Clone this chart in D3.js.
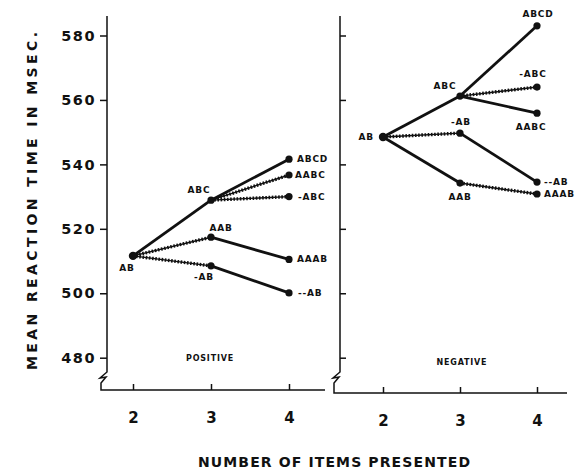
<!DOCTYPE html>
<html><head><meta charset="utf-8">
<script src="https://cdn.jsdelivr.net/npm/d3@7"></script>
<style>
body{margin:0;background:#fff;}
svg{display:block;font-family:"DejaVu Sans","Liberation Sans",sans-serif;font-weight:bold;}
</style></head>
<body><svg id="c" width="581" height="470"></svg>
<script>
// ---- data ----
const xTicks = [2, 3, 4];
const yTicks = [480, 500, 520, 540, 560, 580];
const yTickLabels = ["480", "500", "520", "540", "560", "580"];

const posNames  = ["AB", "ABC", "AAB", "-AB", "ABCD", "AABC", "-ABC", "AAAB", "--AB"];
const posItems  = [2, 3, 3, 3, 4, 4, 4, 4, 4];
const posValues = [511.6, 528.9, 517.4, 508.5, 541.6, 536.7, 530.0, 510.5, 500.1];
const posFrom   = ["AB", "AB", "AB", "ABC", "ABC", "ABC", "AAB", "-AB"];
const posTo     = ["ABC", "AAB", "-AB", "ABCD", "AABC", "-ABC", "AAAB", "--AB"];
const posDotted = [false, true, true, false, true, true, false, false];

const negNames  = ["AB", "ABC", "-AB", "AAB", "ABCD", "-ABC", "AABC", "--AB", "AAAB"];
const negItems  = [2, 3, 3, 3, 4, 4, 4, 4, 4];
const negValues = [548.5, 561.2, 549.7, 534.2, 583.0, 564.0, 555.9, 534.5, 530.8];
const negFrom   = ["AB", "AB", "AB", "ABC", "ABC", "ABC", "-AB", "AAB"];
const negTo     = ["ABC", "-AB", "AAB", "ABCD", "-ABC", "AABC", "--AB", "AAAB"];
const negDotted = [false, true, false, false, true, false, false, true];

const panelTitles = ["POSITIVE", "NEGATIVE"];
const xTitle = "NUMBER OF ITEMS PRESENTED";
const yTitle = "MEAN REACTION TIME IN MSEC.";

// ---- layout (label offsets: [dx, dy, anchor]) ----
const posLabelPos = {
  "AB": [-6, 12, "middle"], "ABC": [-12, -10, "middle"], "AAB": [10, -9, "middle"],
  "-AB": [-7, 11, "middle"], "ABCD": [8, 0, "start"], "AABC": [6, 0, "start"],
  "-ABC": [9, 0, "start"], "AAAB": [8, 0, "start"], "--AB": [9, 0, "start"]
};
const negLabelPos = {
  "AB": [-9, 0, "end"], "ABC": [-15, -10, "middle"], "-AB": [1, -11, "middle"],
  "AAB": [0, 14, "middle"], "ABCD": [1, -12, "middle"], "-ABC": [-4, -13, "middle"],
  "AABC": [-6, 14, "middle"], "--AB": [7, 0, "start"], "AAAB": [7, 0, "start"]
};

const svg = d3.select("#c");
const y = d3.scaleLinear().domain([480, 580]).range([357.7, 35.5]);
const xL = d3.scaleLinear().domain([2, 4]).range([133, 289]);
const xR = d3.scaleLinear().domain([2, 4]).range([383, 537]);

const ink = "#111";

// left y axis
const axL = 107, axR = 340;
const gy = svg.append("g").attr("transform", `translate(${axL},0)`)
  .call(d3.axisLeft(y).tickValues(yTicks).tickFormat((d,i)=>yTickLabels[i]).tickSize(7).tickPadding(4));
gy.select(".domain").remove();
gy.selectAll("line").attr("stroke", ink).attr("stroke-width", 1.5);
gy.selectAll("text").attr("font-size", 14.5).attr("font-weight", "bold").attr("letter-spacing", 1.5)
  .attr("fill", ink).attr("font-family", "DejaVu Sans, sans-serif");

// right y axis (no labels)
const gy2 = svg.append("g").attr("transform", `translate(${axR},0)`)
  .call(d3.axisRight(y).tickValues(yTicks).tickFormat("").tickSize(6));
gy2.select(".domain").remove();
gy2.selectAll("line").attr("stroke", ink).attr("stroke-width", 1.5);

// axis lines with breaks
function axisFrame(ax, bottomY, xEnd) {
  const p = d3.path();
  p.moveTo(ax, 16);
  p.lineTo(ax, 372);
  p.lineTo(ax - 7, 378);
  p.lineTo(ax - 1, 377);
  p.lineTo(ax - 6, 383);
  p.lineTo(ax - 6, bottomY);
  p.lineTo(xEnd, bottomY);
  svg.append("path").attr("d", p.toString()).attr("fill", "none")
    .attr("stroke", ink).attr("stroke-width", 1.5);
}
axisFrame(axL, 390, 325);
axisFrame(axR, 393, 567);

// x axes
function xAxis(scale, yPos) {
  const g = svg.append("g").attr("transform", `translate(0,${yPos})`)
    .call(d3.axisBottom(scale).tickValues(xTicks).tickFormat(d3.format("d")).tickSize(-6).tickPadding(22));
  g.select(".domain").remove();
  g.selectAll("line").attr("stroke", ink).attr("stroke-width", 1.5);
  g.selectAll("text").attr("font-size", 15).attr("font-weight", "bold").attr("fill", ink)
    .attr("font-family", "DejaVu Sans, sans-serif");
}
xAxis(xL, 390);
xAxis(xR, 393);

// panels
function panel(x, names, items, values, from, to, dotted, labelPos) {
  const idx = {};
  names.forEach((n, i) => idx[n] = i);
  const g = svg.append("g");
  from.forEach((f, k) => {
    const a = idx[f], b = idx[to[k]];
    const x1 = x(items[a]), y1 = y(values[a]), x2 = x(items[b]), y2 = y(values[b]);
    if (dotted[k]) {
      g.append("line").attr("x1", x1).attr("y1", y1).attr("x2", x2).attr("y2", y2)
        .attr("stroke", ink).attr("stroke-width", 1.4);
      g.append("line").attr("x1", x1).attr("y1", y1).attr("x2", x2).attr("y2", y2)
        .attr("stroke", ink).attr("stroke-width", 3.4).attr("stroke-dasharray", "1.6,1.6");
    } else {
      g.append("line").attr("x1", x1).attr("y1", y1).attr("x2", x2).attr("y2", y2)
        .attr("stroke", ink).attr("stroke-width", 2.8);
    }
  });
  names.forEach((n, i) => {
    const cx = x(items[i]), cy = y(values[i]);
    g.append("circle").attr("cx", cx).attr("cy", cy).attr("r", i === 0 ? 4.2 : 3.6).attr("fill", ink);
    const lp = labelPos[n];
    g.append("text").attr("x", cx + lp[0]).attr("y", cy + lp[1])
      .attr("text-anchor", lp[2]).attr("dominant-baseline", "central")
      .attr("font-size", 9).attr("font-weight", "bold").attr("letter-spacing", 0.8)
      .attr("fill", ink).text(n);
  });
}
panel(xL, posNames, posItems, posValues, posFrom, posTo, posDotted, posLabelPos);
panel(xR, negNames, negItems, negValues, negFrom, negTo, negDotted, negLabelPos);

// panel titles
svg.append("text").attr("x", 210).attr("y", 358).attr("text-anchor", "middle")
  .attr("dominant-baseline", "central").attr("font-size", 8).attr("letter-spacing", 0.8)
  .attr("fill", ink).text(panelTitles[0]);
svg.append("text").attr("x", 462).attr("y", 362).attr("text-anchor", "middle")
  .attr("dominant-baseline", "central").attr("font-size", 8).attr("letter-spacing", 0.8)
  .attr("fill", ink).text(panelTitles[1]);

// axis titles
svg.append("text").attr("x", 334).attr("y", 462).attr("text-anchor", "middle")
  .attr("dominant-baseline", "central").attr("font-size", 14).attr("fill", ink)
  .attr("textLength", 272).attr("lengthAdjust", "spacing").text(xTitle);
svg.append("text").attr("transform", "translate(32,201) rotate(-90)").attr("text-anchor", "middle")
  .attr("dominant-baseline", "central").attr("font-size", 14).attr("fill", ink)
  .attr("textLength", 338).attr("lengthAdjust", "spacing").text(yTitle);
</script></body></html>
